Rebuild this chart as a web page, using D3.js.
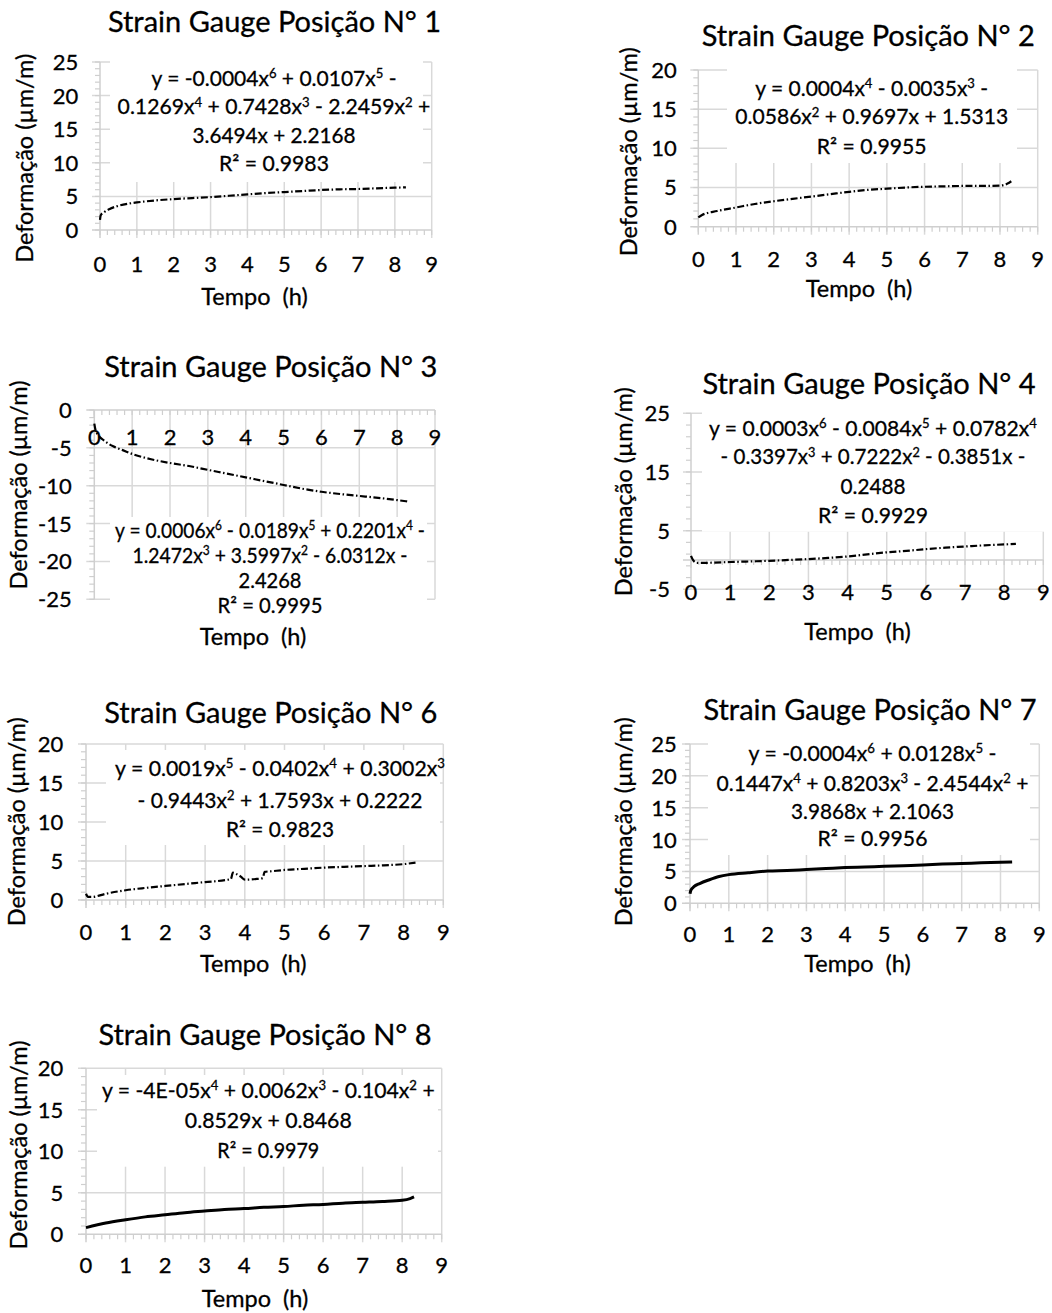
<!DOCTYPE html>
<html>
<head>
<meta charset="utf-8">
<script src="https://cdn.jsdelivr.net/npm/d3@7"></script>
<style>
  html, body { margin: 0; padding: 0; background: #fff; }
  svg text { font-family: Lato, "Open Sans", sans-serif; fill: #000; stroke: #000; stroke-width: 0.3px; white-space: pre; }
</style>
</head>
<body>
<svg id="chart" width="1052" height="1313"></svg>
<script>
// ---------------- DATA ----------------
const xTicks = [0, 1, 2, 3, 4, 5, 6, 7, 8, 9];
const xTitle = "Tempo  (h)";
const yTitle = "Deformação (µm/m)";

const titles = [
  "Strain Gauge Posição N° 1", "Strain Gauge Posição N° 2", "Strain Gauge Posição N° 3",
  "Strain Gauge Posição N° 4", "Strain Gauge Posição N° 6", "Strain Gauge Posição N° 7",
  "Strain Gauge Posição N° 8"
];

const yTicks1 = [0, 5, 10, 15, 20, 25];
const yTicks2 = [0, 5, 10, 15, 20];
const yTicks3 = [0, -5, -10, -15, -20, -25];
const yTicks4 = [-5, 5, 15, 25];
const yTicks6 = [0, 5, 10, 15, 20];
const yTicks7 = [0, 5, 10, 15, 20, 25];
const yTicks8 = [0, 5, 10, 15, 20];

const times1 = [0, 0.02, 0.1, 0.25, 0.5, 0.75, 1, 1.5, 2, 2.5, 3, 3.5, 4, 4.5, 5, 5.5, 6, 6.5, 7, 7.5, 8, 8.3];
const strain1 = [1.5, 2.2, 2.6, 3.1, 3.6, 3.9, 4.1, 4.4, 4.6, 4.75, 4.9, 5.1, 5.3, 5.5, 5.65, 5.8, 5.95, 6.05, 6.1, 6.2, 6.3, 6.35];

const times2 = [0, 0.1, 0.5, 1, 1.5, 2, 2.5, 3, 3.5, 4, 4.5, 5, 5.5, 6, 6.5, 7, 7.5, 8, 8.2, 8.3];
const strain2 = [1.2, 1.5, 2.0, 2.45, 2.9, 3.25, 3.55, 3.85, 4.15, 4.45, 4.7, 4.85, 5.0, 5.1, 5.15, 5.2, 5.2, 5.25, 5.5, 5.8];

const times3 = [0, 0.03, 0.1, 0.25, 0.5, 0.75, 1, 1.5, 2, 2.5, 3, 3.5, 4, 4.5, 5, 5.5, 6, 6.5, 7, 7.5, 8, 8.3];
const strain3 = [-1.8, -2.6, -3.3, -4.0, -4.8, -5.3, -5.8, -6.5, -7.0, -7.4, -7.9, -8.4, -8.9, -9.4, -9.9, -10.4, -10.8, -11.1, -11.35, -11.6, -11.9, -12.1];

const times4 = [0, 0.05, 0.15, 0.3, 0.6, 1, 1.5, 2, 2.5, 3, 3.5, 4, 4.5, 5, 5.5, 6, 6.5, 7, 7.5, 8, 8.3];
const strain4 = [0.7, 0.0, -0.5, -0.5, -0.45, -0.35, -0.25, -0.15, 0.0, 0.15, 0.35, 0.6, 0.95, 1.3, 1.55, 1.85, 2.1, 2.3, 2.5, 2.65, 2.75];

const times6 = [0, 0.05, 0.15, 0.5, 1, 1.5, 2, 2.5, 3, 3.5, 3.65, 3.7, 3.8, 3.9, 4.0, 4.3, 4.45, 4.5, 4.7, 5, 5.5, 6, 6.5, 7, 7.5, 8, 8.3];
const strain6 = [0.8, 0.4, 0.4, 0.8, 1.25, 1.55, 1.8, 2.05, 2.3, 2.55, 2.7, 3.5, 3.3, 3.0, 2.6, 2.7, 2.8, 3.6, 3.7, 3.85, 4.0, 4.15, 4.25, 4.35, 4.45, 4.6, 4.8];

const times7 = [0, 0.02, 0.05, 0.1, 0.25, 0.5, 0.75, 1, 1.5, 2, 2.5, 3, 3.5, 4, 4.5, 5, 5.5, 6, 6.5, 7, 7.5, 8, 8.3];
const strain7 = [1.5, 2.0, 2.3, 2.6, 3.1, 3.7, 4.2, 4.5, 4.8, 5.05, 5.15, 5.3, 5.45, 5.6, 5.7, 5.8, 5.9, 6.0, 6.15, 6.25, 6.35, 6.45, 6.5];

const times8 = [0, 0.5, 1, 1.5, 2, 2.5, 3, 3.5, 4, 4.5, 5, 5.5, 6, 6.5, 7, 7.5, 8, 8.2, 8.3];
const strain8 = [0.8, 1.35, 1.75, 2.1, 2.35, 2.6, 2.8, 3.0, 3.1, 3.25, 3.35, 3.5, 3.6, 3.75, 3.85, 3.95, 4.1, 4.3, 4.5];

const eq1 = ["y = -0.0004x^6 + 0.0107x^5 -", "0.1269x^4 + 0.7428x^3 - 2.2459x^2 +", "3.6494x + 2.2168", "R² = 0.9983"];
const eq2 = ["y = 0.0004x^4 - 0.0035x^3 -", "0.0586x^2 + 0.9697x + 1.5313", "R² = 0.9955"];
const eq3 = ["y = 0.0006x^6 - 0.0189x^5 + 0.2201x^4 -", "1.2472x^3 + 3.5997x^2 - 6.0312x -", "2.4268", "R² = 0.9995"];
const eq4 = ["y = 0.0003x^6 - 0.0084x^5 + 0.0782x^4", "- 0.3397x^3 + 0.7222x^2 - 0.3851x -", "0.2488", "R² = 0.9929"];
const eq6 = ["y = 0.0019x^5 - 0.0402x^4 + 0.3002x^3", "- 0.9443x^2 + 1.7593x + 0.2222", "R² = 0.9823"];
const eq7 = ["y = -0.0004x^6 + 0.0128x^5 -", "0.1447x^4 + 0.8203x^3 - 2.4544x^2 +", "3.9868x + 2.1063", "R² = 0.9956"];
const eq8 = ["y = -4E-05x^4 + 0.0062x^3 - 0.104x^2 +", "0.8529x + 0.8468", "R² = 0.9979"];

// ---------------- LAYOUT (pixels) ----------------
const panels = [
  { title: titles[0], times: times1, vals: strain1, yTicks: yTicks1, eq: eq1, solid: false,
    xr: [100, 431.7], yd: [0, 25], yr: [230, 62], minor: 1, cross: 0,
    titleXY: [274.5, 32], ylabXY: [24, 158.3], xlabXY: [254.5, 305], xTickY: 271.7, yLabR: 78.3,
    eqX: 274, eqY: [78.3, 106.7, 135, 163.3], eqW: [245, 313, 163, 110], box: [110, 45, 423, 182] },
  { title: titles[1], times: times2, vals: strain2, yTicks: yTicks2, eq: eq2, solid: false,
    xr: [698.3, 1037.7], yd: [0, 20], yr: [226.7, 70], minor: 1, cross: 0,
    titleXY: [868.3, 46], ylabXY: [627.5, 151.7], xlabXY: [859, 296.7], xTickY: 266.7, yLabR: 676.7,
    eqX: 871.7, eqY: [88.3, 116.7, 146.7], eqW: [233, 273, 110], box: [727, 62, 1017, 163] },
  { title: titles[2], times: times3, vals: strain3, yTicks: yTicks3, eq: eq3, solid: false,
    xr: [94.3, 435], yd: [-25, 0], yr: [599.3, 410], minor: 1, cross: 0,
    titleXY: [270.8, 376.7], ylabXY: [17.5, 485], xlabXY: [253, 645], xTickY: 445, yLabR: 71.7,
    eqX: 270, eqY: [530, 555, 580, 605], eqW: [310, 275, 63, 105], box: [110, 517, 427, 618] },
  { title: titles[3], times: times4, vals: strain4, yTicks: yTicks4, eq: eq4, solid: false,
    xr: [691, 1043.3], yd: [-5, 25], yr: [589.3, 413.3], minor: 2, cross: 0,
    titleXY: [869, 394.3], ylabXY: [622.5, 491.7], xlabXY: [857.5, 640], xTickY: 600, yLabR: 670,
    eqX: 873, eqY: [428.3, 456.7, 486.7, 515], eqW: [328, 305, 65, 110], box: [702, 405, 1048, 531.7] },
  { title: titles[4], times: times6, vals: strain6, yTicks: yTicks6, eq: eq6, solid: false,
    xr: [86, 443.3], yd: [0, 20], yr: [900, 744], minor: 1, cross: 0,
    titleXY: [270.8, 723.3], ylabXY: [15.8, 821.7], xlabXY: [253.3, 971.7], xTickY: 940, yLabR: 63.3,
    eqX: 280, eqY: [768.3, 800, 829.3], eqW: [330, 285, 108], box: [106, 750, 440, 845] },
  { title: titles[5], times: times7, vals: strain7, yTicks: yTicks7, eq: eq7, solid: true,
    xr: [690, 1039.3], yd: [0, 25], yr: [903.3, 744], minor: 1, cross: 0,
    titleXY: [870, 720], ylabXY: [622.5, 821.7], xlabXY: [857.5, 971.7], xTickY: 941.7, yLabR: 676.7,
    eqX: 872.5, eqY: [753.3, 783.3, 811.7, 838.3], eqW: [248, 312, 163, 110], box: [708, 738, 1030, 855] },
  { title: titles[6], times: times8, vals: strain8, yTicks: yTicks8, eq: eq8, solid: true,
    xr: [86, 441.7], yd: [0, 20], yr: [1234.3, 1068.3], minor: 1, cross: 0,
    titleXY: [265, 1045], ylabXY: [18.3, 1145], xlabXY: [255, 1306.7], xTickY: 1273.3, yLabR: 63.3,
    eqX: 268.3, eqY: [1090, 1120, 1150], eqW: [333, 167, 102], box: [97, 1075, 438, 1166.7] }
];

const svg = d3.select("#chart");
const GRID = "#d9d9d9";
const AXIS = "#cfcfcf";
const TICK_FS = 22, EQ_FS = 21, TITLE_FS = 29, AXT_FS = 23.5;

function addEqLine(g, str, cx, cy, fs, targetW) {
  const base = cy + fs * 0.36;
  const t = g.append("text").attr("x", cx).attr("y", base).attr("text-anchor", "middle")
    .attr("font-size", fs);
  const parts = str.split(/\^(\d)/);
  const rise = fs * 0.36;
  let pending = 0;
  parts.forEach((p, i) => {
    if (i % 2 === 1) {
      t.append("tspan").attr("dy", -rise).attr("font-size", fs * 0.62).text(p);
      pending = rise;
    } else if (p !== "") {
      t.append("tspan").attr("dy", pending).text(p);
      pending = 0;
    }
  });
  if (targetW) {
    const w = t.node().getComputedTextLength();
    if (w > 0) {
      const s = targetW / w;
      t.attr("transform", `translate(${cx},0) scale(${s},1) translate(${-cx},0)`);
    }
  }
}

panels.forEach((p) => {
  const g = svg.append("g");
  const x = d3.scaleLinear().domain([0, 9]).range(p.xr);
  const y = d3.scaleLinear().domain(p.yd).range(p.yr);
  const yTopPx = Math.min(...p.yr), yBotPx = Math.max(...p.yr);
  const axisY = y(p.cross);

  // vertical gridlines
  g.selectAll(".vg").data(xTicks.filter(d => d > 0)).join("line")
    .attr("x1", d => x(d)).attr("x2", d => x(d))
    .attr("y1", yTopPx).attr("y2", Math.max(yBotPx, axisY + 8))
    .attr("stroke", GRID).attr("stroke-width", 1.5);
  // horizontal gridlines
  g.selectAll(".hg").data(p.yTicks.filter(d => d !== p.cross)).join("line")
    .attr("x1", p.xr[0] - 8).attr("x2", p.xr[1])
    .attr("y1", d => y(d)).attr("y2", d => y(d))
    .attr("stroke", GRID).attr("stroke-width", 1.5);

  // y axis minor ticks
  const yMinor = d3.range(p.yd[0], p.yd[1] + 0.001, p.minor);
  g.selectAll(".ym").data(yMinor).join("line")
    .attr("x1", p.xr[0] - 5).attr("x2", p.xr[0])
    .attr("y1", d => y(d)).attr("y2", d => y(d))
    .attr("stroke", AXIS).attr("stroke-width", 1.2);
  // x axis minor ticks
  const xMinor = d3.range(0, 9.001, 0.2);
  g.selectAll(".xm").data(xMinor).join("line")
    .attr("x1", d => x(d)).attr("x2", d => x(d))
    .attr("y1", axisY).attr("y2", axisY + 5)
    .attr("stroke", AXIS).attr("stroke-width", 1.2);

  // axes lines
  g.append("line").attr("x1", p.xr[0]).attr("x2", p.xr[0]).attr("y1", yTopPx).attr("y2", yBotPx)
    .attr("stroke", AXIS).attr("stroke-width", 1.5);
  g.append("line").attr("x1", p.xr[0] - 8).attr("x2", p.xr[1]).attr("y1", axisY).attr("y2", axisY)
    .attr("stroke", AXIS).attr("stroke-width", 1.5);
  g.append("line").attr("x1", p.xr[0]).attr("x2", p.xr[0]).attr("y1", axisY).attr("y2", axisY + 8)
    .attr("stroke", AXIS).attr("stroke-width", 1.5);

  // x tick labels
  g.selectAll(".xl").data(xTicks).join("text")
    .attr("x", d => x(d)).attr("y", p.xTickY).attr("text-anchor", "middle")
    .attr("font-size", TICK_FS).text(d => d);
  // y tick labels
  g.selectAll(".yl").data(p.yTicks).join("text")
    .attr("x", p.yLabR).attr("y", d => y(d) + TICK_FS * 0.36).attr("text-anchor", "end")
    .attr("font-size", TICK_FS).text(d => d);

  // data
  const line = d3.line().x((d, i) => x(p.times[i])).y(d => y(d)).curve(d3.curveMonotoneX);
  g.append("path").datum(p.vals).attr("d", line).attr("fill", "none")
    .attr("stroke", "#000")
    .attr("stroke-width", p.solid ? 3 : 2.2)
    .attr("stroke-dasharray", p.solid ? null : "7,2.5,1.5,2.5");

  // equation box
  const b = p.box;
  g.append("rect").attr("x", b[0]).attr("y", b[1]).attr("width", b[2] - b[0]).attr("height", b[3] - b[1])
    .attr("fill", "#fff");
  p.eq.forEach((s, i) => addEqLine(g, s, p.eqX, p.eqY[i], EQ_FS, p.eqW[i]));

  // titles
  g.append("text").attr("x", p.titleXY[0]).attr("y", p.titleXY[1]).attr("text-anchor", "middle")
    .attr("font-size", TITLE_FS).text(p.title);
  g.append("text").attr("x", p.xlabXY[0]).attr("y", p.xlabXY[1]).attr("text-anchor", "middle")
    .attr("font-size", AXT_FS).text(xTitle);
  g.append("text").attr("transform", `translate(${p.ylabXY[0]},${p.ylabXY[1]}) rotate(-90)`)
    .attr("text-anchor", "middle").attr("dominant-baseline", "central")
    .attr("font-size", AXT_FS).text(yTitle);
});
</script>
</body>
</html>
